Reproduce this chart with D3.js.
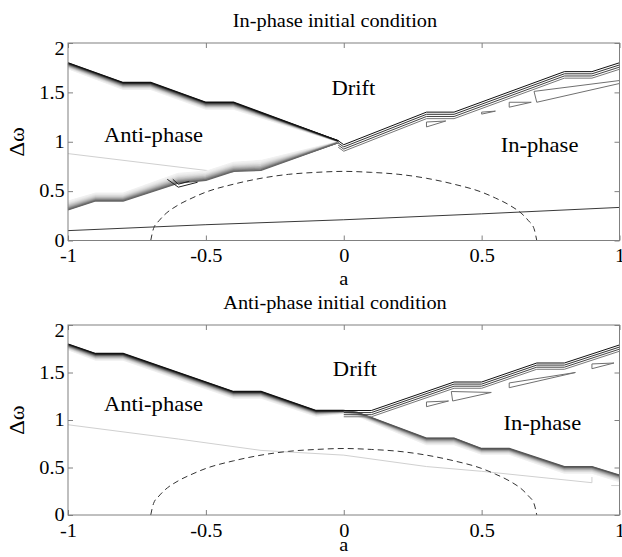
<!DOCTYPE html>
<html>
<head>
<meta charset="utf-8">
<script src="https://cdn.jsdelivr.net/npm/d3@7"></script>
<style>
  body { margin: 0; background: #fff; }
  text { font-family: "Liberation Serif", "DejaVu Serif", serif; fill: #000; }
</style>
</head>
<body>
<svg id="chart" width="622" height="557"></svg>
<script>
// axis ticks
const xTicks = [-1, -0.5, 0, 0.5, 1];
const yTicks = [0, 0.5, 1, 1.5, 2];

// dashed boundary (same in both panels)
const dashA = [-0.7, -0.69, -0.67, -0.65, -0.6, -0.55, -0.5, -0.4, -0.3, -0.2, -0.1, 0, 0.1, 0.2, 0.3, 0.4, 0.5, 0.55, 0.6, 0.65, 0.67, 0.69, 0.7];
const dashW = [0, 0.12, 0.2, 0.26, 0.36, 0.43, 0.49, 0.57, 0.63, 0.67, 0.69, 0.7, 0.69, 0.67, 0.63, 0.57, 0.49, 0.43, 0.36, 0.26, 0.2, 0.12, 0];

// ---- top panel: in-phase initial condition ----
const topThinA = [-1, -0.5, 0, 0.5, 1];
const topThinW = [0.10, 0.16, 0.21, 0.27, 0.335];

const topGrayA = [-1, -0.5, -0.4];
const topGrayW = [0.88, 0.71, 0.69];

// upper gradient band (dark edge on top)
const topUpA = [-1, -0.8, -0.7, -0.5, -0.4, -0.02];
const topUpHi = [1.80, 1.60, 1.60, 1.40, 1.40, 1.01];
const topUpLo = [1.74, 1.53, 1.53, 1.33, 1.33, 1.00];

// lower gradient band (dark edge at bottom)
const topLowA = [-1, -0.9, -0.8, -0.6, -0.5, -0.4, -0.3, -0.02];
const topLowLo = [0.31, 0.40, 0.40, 0.58, 0.61, 0.70, 0.71, 0.99];
const topLowHi = [0.40, 0.48, 0.48, 0.68, 0.70, 0.79, 0.81, 1.00];

// right-hand contour lines (top line, others stacked below)
const topRightA = [-0.02, 0, 0.3, 0.4, 0.8, 0.9, 1.0];
const topRightW = [1.01, 0.97, 1.30, 1.30, 1.71, 1.71, 1.80];

const topLoops = [
  [[0.30, 1.20], [0.37, 1.21], [0.30, 1.15]],
  [[0.50, 1.30], [0.55, 1.31], [0.50, 1.28]],
  [[0.60, 1.40], [0.68, 1.40], [0.60, 1.35]],
  [[0.69, 1.51], [1.00, 1.62], [1.00, 1.59], [0.70, 1.40]]
];
const topKinks = [
  [[-0.64, 0.62], [-0.60, 0.54], [-0.53, 0.59]],
  [[-0.62, 0.62], [-0.60, 0.57], [-0.56, 0.60]]
];

// ---- bottom panel: anti-phase initial condition ----
const botGrayA = [-1, -0.6, -0.3, 0, 0.3, 0.5, 0.9, 0.9];
const botGrayW = [0.95, 0.80, 0.68, 0.63, 0.51, 0.46, 0.34, 0.40];
const botGrayTailA = [0.97, 1.0];
const botGrayTailW = [0.31, 0.31];

const botUpA = [-1, -0.9, -0.8, -0.4, -0.3, -0.1, 0.0];
const botUpHi = [1.80, 1.70, 1.70, 1.30, 1.30, 1.10, 1.10];
const botUpLo = [1.74, 1.63, 1.63, 1.23, 1.23, 1.04, 1.07];

const botLowA = [0, 0.05, 0.3, 0.4, 0.5, 0.6, 0.8, 0.9, 1.0];
const botLowHi = [1.10, 1.08, 0.81, 0.81, 0.70, 0.70, 0.51, 0.51, 0.42];
const botLowLo = [1.07, 1.04, 0.74, 0.74, 0.64, 0.64, 0.44, 0.44, 0.35];

const botRightA = [0, 0.1, 0.4, 0.5, 0.7, 0.8, 1.0];
const botRightW = [1.10, 1.10, 1.40, 1.40, 1.60, 1.60, 1.79];

const botLoops = [
  [[0.30, 1.19], [0.38, 1.20], [0.30, 1.14]],
  [[0.39, 1.30], [0.535, 1.29], [0.395, 1.20]],
  [[0.60, 1.39], [0.84, 1.50], [0.60, 1.34]],
  [[0.90, 1.59], [0.98, 1.60], [0.90, 1.54]]
];

const FONT = '"Liberation Serif", "DejaVu Serif", serif';
const svg = d3.select('#chart');
const x = d3.scaleLinear().domain([-1, 1]).range([68, 619.5]);
const stretch = 'scale(1.13,1)';

function label(g, px, py, txt, size, anchor) {
  return g.append('text')
    .attr('transform', `translate(${px},${py}) ${stretch}`)
    .attr('text-anchor', anchor || 'middle')
    .attr('font-family', FONT)
    .style('font-size', size + 'px')
    .text(txt);
}

function drawPanel(y, title, xLabelGap, draw, regions) {
  const g = svg.append('g');
  const line = d3.line().x(d => x(d[0])).y(d => y(d[1]));
  const top = y(2), bottom = y(0);

  draw(g, line, y);

  // dashed curve
  g.append('path')
    .datum(dashA.map((a, i) => [a, dashW[i]]))
    .attr('d', line.curve(d3.curveMonotoneX))
    .attr('fill', 'none').attr('stroke', '#333')
    .attr('stroke-width', 1).attr('stroke-dasharray', '6,4');
  line.curve(d3.curveLinear);

  // frame
  g.append('rect')
    .attr('x', x(-1)).attr('y', top)
    .attr('width', x(1) - x(-1)).attr('height', bottom - top)
    .attr('fill', 'none').attr('stroke', '#808080');

  const fmt = d => String(d);
  const xb = g.append('g').attr('transform', `translate(0,${bottom})`)
    .call(d3.axisBottom(x).tickValues(xTicks).tickSizeInner(-5).tickSizeOuter(0).tickFormat(fmt));
  xb.attr('font-family', FONT);
  xb.selectAll('text').attr('y', 22).attr('dy', 0)
    .attr('transform', stretch).style('font-size', '18px');
  g.append('g').attr('transform', `translate(0,${top})`)
    .call(d3.axisTop(x).tickValues(xTicks).tickSizeInner(-5).tickSizeOuter(0).tickFormat(''));
  const yl = g.append('g').attr('transform', `translate(${x(-1)},0)`)
    .call(d3.axisLeft(y).tickValues(yTicks).tickSizeInner(-5).tickSizeOuter(0).tickFormat(fmt));
  yl.attr('font-family', FONT);
  yl.selectAll('text').attr('x', -3)
    .attr('dy', d => d === 2 ? '0.65em' : '0.32em')
    .attr('transform', stretch).style('font-size', '18px');
  g.append('g').attr('transform', `translate(${x(1)},0)`)
    .call(d3.axisRight(y).tickValues(yTicks).tickSizeInner(-5).tickSizeOuter(0).tickFormat(''));
  g.selectAll('.domain').remove();
  g.selectAll('.tick line').attr('stroke', '#808080');

  label(g, 335, top - 16, title, 18);
  label(g, x(0), bottom + xLabelGap, 'a', 18);
  g.append('text')
    .attr('transform', `translate(24,${y(1)}) rotate(-90) ${stretch}`)
    .attr('text-anchor', 'middle')
    .attr('font-family', FONT)
    .style('font-size', '20px')
    .text('Δω');

  regions.forEach(r => label(g, x(r[1]), y(r[2]), r[0], 20));
}

// a band of contour lines blended between two edges
function band(g, line, aArr, darkEdge, lightEdge, darkCol, lightCol, n) {
  const col = d3.interpolateRgb(lightCol, darkCol);
  for (let i = 0; i < n; i++) {
    const t = i / (n - 1); // 0 = light edge, 1 = dark edge
    const pts = aArr.map((a, k) => [a, lightEdge[k] + (darkEdge[k] - lightEdge[k]) * t]);
    g.append('path').datum(pts).attr('d', line)
      .attr('fill', 'none').attr('stroke', col(Math.pow(t, 1.8))).attr('stroke-width', 1.3);
  }
}

function stack(g, line, aArr, wArr, cols, step) {
  cols.forEach((c, i) => {
    g.append('path').datum(aArr.map((a, k) => [a, wArr[k] - step * (cols.length - 1 - i)]))
      .attr('d', line).attr('fill', 'none').attr('stroke', c).attr('stroke-width', 1);
  });
}

function loops(g, line, polys, col, closed) {
  polys.forEach(p => {
    g.append('path').datum(closed ? p.concat([p[0]]) : p).attr('d', line)
      .attr('fill', 'none').attr('stroke', col).attr('stroke-width', 1);
  });
}

const yTop = d3.scaleLinear().domain([0, 2]).range([240.5, 43]);
drawPanel(yTop, 'In-phase initial condition', 44.5, (g, line) => {
  g.append('path').datum(topGrayA.map((a, i) => [a, topGrayW[i]])).attr('d', line)
    .attr('fill', 'none').attr('stroke', '#d0d0d0');
  g.append('path').datum(topThinA.map((a, i) => [a, topThinW[i]])).attr('d', line)
    .attr('fill', 'none').attr('stroke', '#222').attr('stroke-width', 0.9);
  band(g, line, topLowA, topLowLo, topLowHi, '#666', '#f2f2f2', 16);
  band(g, line, topUpA, topUpHi, topUpLo, '#111', '#f2f2f2', 16);
  loops(g, line, topKinks, '#222', false);
  stack(g, line, topRightA, topRightW, ['#777', '#444', '#333', '#111'], 0.022);
  loops(g, line, topLoops, '#707070', true);
}, [['Drift', 0.035, 1.47], ['Anti-phase', -0.69, 1.0], ['In-phase', 0.71, 0.9]]);

const yBot = d3.scaleLinear().domain([0, 2]).range([515, 325]);
drawPanel(yBot, 'Anti-phase initial condition', 36, (g, line) => {
  g.append('path').datum(botGrayA.map((a, i) => [a, botGrayW[i]])).attr('d', line)
    .attr('fill', 'none').attr('stroke', '#d0d0d0');
  g.append('path').datum(botGrayTailA.map((a, i) => [a, botGrayTailW[i]])).attr('d', line)
    .attr('fill', 'none').attr('stroke', '#d0d0d0');
  band(g, line, botLowA, botLowHi, botLowLo, '#555', '#f2f2f2', 16);
  band(g, line, botUpA, botUpHi, botUpLo, '#111', '#f2f2f2', 16);
  stack(g, line, botRightA, botRightW, ['#777', '#444', '#333', '#111'], 0.022);
  loops(g, line, botLoops, '#707070', true);
}, [['Drift', 0.04, 1.46], ['Anti-phase', -0.69, 1.09], ['In-phase', 0.72, 0.89]]);
</script>
</body>
</html>
